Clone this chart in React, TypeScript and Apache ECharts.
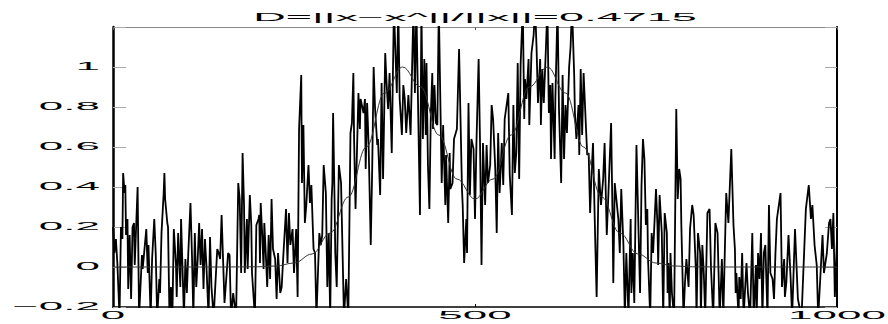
import React, { useEffect, useRef } from "react";
import * as echarts from "echarts";

const titleText = "D=||x\u2212x^||/||x||=0.4715";
const xTicks = [0, 500, 1000];
const xTickLabels = ["0", "500", "1000"];
const yTicks = [-0.2, 0, 0.2, 0.4, 0.6, 0.8, 1];
const yTickLabels = ["\u22120.2", "0", "0.2", "0.4", "0.6", "0.8", "1"];

const noiseX = [
  0,2,4,6,9,11,13,14,16,17,18,20,21,23,25,27,29,30,34,36,40,41,46,48,49,52,54,57,59,61,64,65,67,70,71,72,75,76,78,80,82,84,87,88,90,93,94,98,100,102,104,107,109,111,113,115,117,119,121,123,125,127,129,132,
  134,136,139,144,146,148,150,154,159,161,163,166,170,173,175,177,179,181,182,185,186,189,191,192,196,198,201,202,203,204,206,208,209,211,213,215,217,219,221,224,226,228,231,233,235,239,241,243,245,248,250,253,255,257,260,261,263,265,267,270,272,274,277,
  279,281,285,287,289,291,294,296,298,300,302,303,304,306,307,309,312,315,319,322,325,328,330,332,333,335,339,341,342,346,348,349,351,353,356,358,360,362,365,366,369,371,373,376,378,380,382,385,388,392,394,396,399,401,403,405,408,411,415,417,419,424,
  426,428,430,432,433,435,437,439,441,442,444,446,448,450,454,456,459,460,463,465,466,469,471,475,478,482,483,485,488,489,491,493,495,498,500,502,505,507,509,511,514,516,518,521,523,525,528,530,532,534,537,539,541,546,548,551,553,555,557,559,561,563,566,568,
  569,571,574,575,578,581,583,585,587,590,591,593,595,598,600,602,604,605,607,610,611,614,616,619,621,623,625,627,630,632,634,637,638,640,643,644,646,648,650,653,655,657,659,661,663,666,668,671,674,677,679,682,684,688,690,691,693,698,700,702,705,707,709,712,
  714,715,716,718,720,721,723,726,728,730,732,734,736,738,739,742,744,746,750,752,753,755,758,760,762,765,766,767,769,770,772,775,778,780,782,784,785,788,790,792,795,797,800,802,805,806,808,811,812,814,816,818,821,824,826,829,832,835,838,841,843,845,847,850,854,857,
  859,860,861,864,865,867,869,871,875,877,880,883,885,888,889,891,893,895,897,899,901,904,906,908,911,913,915,917,922,924,927,928,930,933,936,938,942,946,951,957,961,964,966,969,972,974,977,980,982,986,989,991,993,995,997,1000
];

const noiseY = [
  0.2,0.07,0.14,0.02,-0.25,0.2,0.14,0.47,0.37,0.41,0.16,0.24,-0.11,0.16,-0.16,0.2,0.22,0.01,0.4,-0.25,0.06,-0.01,0.19,-0.03,0.11,-0.25,0.04,0.24,0.07,-0.25,-0.06,-0.13,0.17,0.37,0.47,0.34,0.22,0.2,-0.25,-0.1,-0.25,0.19,0.01,-0.15,0.17,-0.1,0.24,-0.25,0.04,-0.13,0.07,0.32,0.07,-0.25,0.17,-0.1,0.04,0.22,0.01,0.19,-0.11,0.14,0.01,-0.25,
  0.15,-0.1,-0.25,0.09,0.07,0.04,0.26,-0.18,0.07,0.06,-0.25,-0.13,-0.25,0.42,0.34,-0.03,0.57,0.31,-0.03,0.24,-0.01,0.36,0.21,-0.03,-0.25,0.21,0.24,0.26,0.02,0.32,0.17,-0.01,0.22,0.07,-0.1,0.16,-0.06,0.34,0.09,0.04,-0.16,0.07,-0.13,-0.1,0.04,0.29,0.02,0.27,0.11,0.19,-0.03,0.19,-0.15,0.69,0.96,0.42,0.71,0.22,0.31,0.51,0.32,0.41,0.09,
  0.07,-0.25,0.17,0.11,0.16,0.51,0.37,-0.1,0.17,-0.25,0.34,0.42,0.77,0.34,0.07,-0.1,0.51,0.42,-0.25,-0.06,-0.25,0.67,0.72,0.97,0.64,0.29,0.87,0.69,0.84,0.77,0.84,0.49,0.82,0.62,0.11,0.49,1.0,0.79,0.61,0.64,0.36,0.92,0.44,1.07,0.91,0.79,0.97,0.57,1.3,0.87,1.3,0.84,0.66,0.91,0.84,0.67,0.86,0.66,1.3,0.87,1.3,0.26,
  1.3,0.64,1.04,0.66,1.02,0.51,0.29,0.77,0.97,0.69,0.91,0.72,0.71,1.3,0.42,0.71,0.31,0.56,0.22,0.57,0.39,0.42,0.64,0.69,1.09,0.39,0.31,0.02,0.24,0.07,0.82,0.36,0.64,0.59,0.24,0.62,1.04,0.61,0.01,0.62,0.31,0.61,0.42,0.51,0.81,0.74,0.49,0.17,0.67,0.37,0.62,0.41,0.74,0.87,0.46,0.26,0.81,0.47,0.57,1.02,0.44,1.01,1.3,0.74,
  0.94,0.84,1.04,0.71,1.07,1.16,1.3,1.1,0.82,1.04,0.71,0.99,0.82,1.1,1.3,0.77,0.91,0.54,0.92,0.54,0.84,1.3,0.79,0.42,0.96,0.54,0.81,0.67,1.0,1.1,1.3,0.96,0.77,0.64,0.81,0.56,0.99,0.66,0.97,0.72,0.56,0.57,0.27,0.47,0.62,0.14,-0.15,0.49,0.31,0.44,0.62,0.16,0.34,0.72,0.24,-0.08,0.42,0.24,0.07,0.39,0.11,-0.25,0.07,-0.25,
  0.09,0.24,-0.13,0.07,-0.18,0.07,0.61,0.16,-0.13,0.41,0.64,0.54,0.21,0.29,0.04,-0.25,0.17,0.07,0.39,0.21,0.01,0.36,0.17,-0.25,0.27,0.17,-0.13,0.02,-0.25,0.07,-0.13,-0.25,0.79,0.34,0.49,0.44,0.21,-0.25,-0.08,0.04,-0.1,0.19,0.31,0.26,-0.01,-0.25,0.17,0.07,-0.25,0.11,-0.03,-0.25,0.27,0.29,-0.01,-0.25,0.22,0.17,-0.25,0.04,-0.25,0.07,0.37,0.22,0.59,0.21,
  0.09,-0.13,-0.03,-0.25,-0.05,-0.16,0.07,-0.25,0.02,-0.13,-0.25,0.17,-0.25,0.01,-0.25,0.07,-0.06,0.17,-0.25,0.07,0.11,-0.25,0.31,-0.03,-0.06,-0.16,0.07,0.24,0.37,-0.1,0.04,-0.15,-0.08,0.16,-0.06,-0.25,0.19,-0.16,-0.25,0.29,0.41,0.24,0.31,0.11,0.01,-0.25,-0.05,0.16,-0.03,0.07,0.22,0.24,0.09,0.27,-0.15,0.14
];

const curveX = [0,50,100,150,200,225,250,275,300,325,350,375,400,425,450,475,500,525,550,575,600,625,650,675,700,725,750,775,800,850,900,950,1000];
const curveY = [0,0,0,0,0.001,0.005,0.02,0.065,0.17,0.35,0.6,0.87,1.0,0.9,0.66,0.44,0.34,0.44,0.66,0.9,1.0,0.87,0.6,0.35,0.17,0.065,0.02,0.005,0.001,0,0,0,0];

export default function App() {
  const ref = useRef<HTMLDivElement>(null);
  useEffect(() => {
    document.body.style.margin = "0";
    const chart = echarts.init(ref.current!, null, { renderer: "svg" });
    const noise = noiseX.map((x, i) => [x, noiseY[i]]);
    const curve = curveX.map((x, i) => [x, curveY[i]]);
    const xBase = {
      type: "value" as const,
      min: 0,
      max: 1000,
      interval: 500,
      axisLabel: { show: false },
      splitLine: { show: false },
    };
    const yBase = {
      type: "value" as const,
      min: -0.2,
      max: 1.2,
      interval: 0.2,
      axisLabel: { show: false },
      splitLine: { show: false },
    };
    chart.setOption({
      animation: false,
      grid: { left: 113, top: 27, width: 724, height: 280, containLabel: false },
      xAxis: [
        {
          ...xBase,
          position: "bottom",
          axisLine: { show: true, onZero: false, lineStyle: { color: "#000", width: 1.5 } },
          axisTick: { show: true, inside: true, length: 3, lineStyle: { color: "#000" } },
        },
        {
          ...xBase,
          position: "top",
          axisLine: { show: true, onZero: false, lineStyle: { color: "#888", width: 1 } },
          axisTick: { show: true, inside: true, length: 3, lineStyle: { color: "#555" } },
        },
      ],
      yAxis: [
        {
          ...yBase,
          position: "left",
          axisLine: { show: true, onZero: false, lineStyle: { color: "#000", width: 2.5 } },
          axisTick: { show: true, inside: true, length: 13, lineStyle: { color: "#aaa", width: 1 } },
        },
        {
          ...yBase,
          position: "right",
          axisLine: { show: true, onZero: false, lineStyle: { color: "#000", width: 2 } },
          axisTick: { show: true, inside: true, length: 12, lineStyle: { color: "#aaa", width: 1 } },
        },
      ],
      series: [
        {
          type: "line",
          xAxisIndex: 0,
          yAxisIndex: 0,
          data: noise,
          symbol: "none",
          lineStyle: { color: "#000", width: 1.8 },
          clip: true,
        },
        {
          type: "line",
          xAxisIndex: 0,
          yAxisIndex: 0,
          data: curve,
          symbol: "none",
          smooth: 0.4,
          smoothMonotone: "x",
          lineStyle: { color: "#333", width: 1 },
          clip: true,
        },
      ],
    });

    const font = { fontSize: 10, fontFamily: "Liberation Sans", fill: "#000" };
    const graphics: any[] = [];
    yTicks.forEach((v, i) => {
      const p = chart.convertToPixel({ gridIndex: 0 }, [0, v]) as number[];
      graphics.push({
        type: "text",
        x: p[0] - 13,
        y: p[1],
        scaleX: 4.4,
        style: { ...font, text: yTickLabels[i], align: "right", verticalAlign: "middle" },
      });
    });
    xTicks.forEach((v, i) => {
      const p = chart.convertToPixel({ gridIndex: 0 }, [v, -0.2]) as number[];
      graphics.push({
        type: "text",
        x: p[0],
        y: p[1] + 9,
        scaleX: 4.4,
        style: { ...font, text: xTickLabels[i], align: "center", verticalAlign: "middle" },
      });
    });
    const tl = chart.convertToPixel({ gridIndex: 0 }, [500, 1.2]) as number[];
    graphics.push({
      type: "text",
      x: tl[0],
      y: tl[1] - 10,
      scaleX: 4.5,
      style: { ...font, text: titleText, align: "center", verticalAlign: "middle" },
    });
    chart.setOption({ graphic: graphics });

    return () => chart.dispose();
  }, []);
  return <div ref={ref} style={{ width: 888, height: 324 }} />;
}
